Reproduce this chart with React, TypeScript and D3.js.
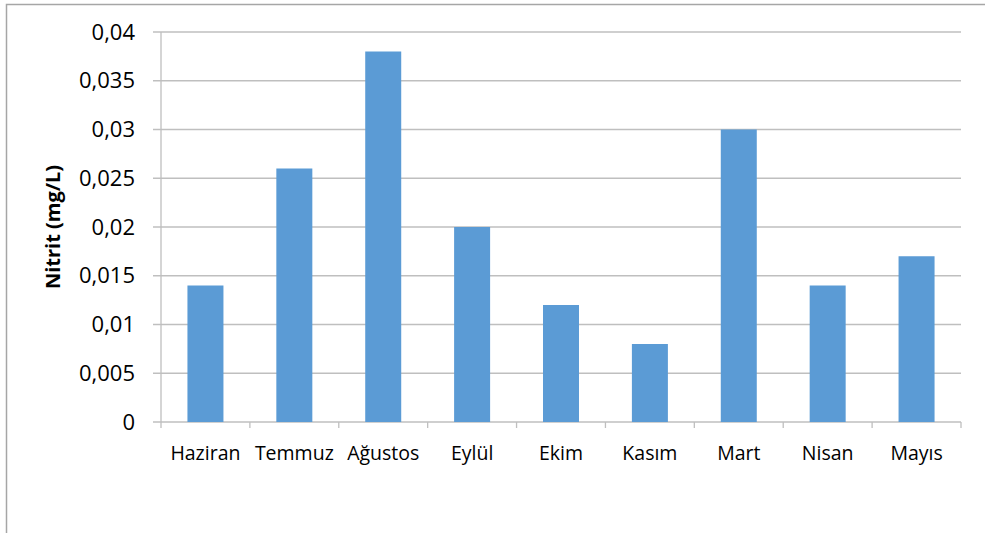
import React from "react";
import * as d3 from "d3";

const categories = ["Haziran", "Temmuz", "Ağustos", "Eylül", "Ekim", "Kasım", "Mart", "Nisan", "Mayıs"];
const values = [0.014, 0.026, 0.038, 0.02, 0.012, 0.008, 0.03, 0.014, 0.017];
const yTicks = [0, 0.005, 0.01, 0.015, 0.02, 0.025, 0.03, 0.035, 0.04];
const yTitle = "Nitrit (mg/L)";

const W = 985, H = 533;
const L = 161, R = 961, T = 32, B = 422;

export default function App() {
  const x = d3.scaleBand<string>().domain(categories).range([L, R]).paddingInner(0.595).paddingOuter(0.2975);
  const y = d3.scaleLinear().domain([0, 0.04]).range([B, T]);
  const fmt = (v: number) => (v === 0 ? "0" : String(+v.toFixed(3)).replace(".", ","));
  const step = (R - L) / categories.length;
  const font = "'Open Sans', 'Liberation Sans', sans-serif";
  return (
    <svg width={W} height={H} style={{ position: "absolute", left: 0, top: 0 }} fontFamily={font}>
      <rect x={0} y={0} width={W} height={H} fill="#fff" />
      <path d={`M6.5,${H}V4.5H${W}`} fill="none" stroke="#a6a6a6" strokeWidth={1.5} />
      {yTicks.map((t) => (
        <g key={t}>
          <line x1={L - 8} x2={R} y1={y(t)} y2={y(t)} stroke="#bfbfbf" strokeWidth={1.3} />
          <text x={135} y={y(t)} dy="0.35em" textAnchor="end" fontSize={22} fill="#000">
            {fmt(t)}
          </text>
        </g>
      ))}
      <line x1={L} x2={L} y1={T} y2={B} stroke="#bfbfbf" strokeWidth={1.3} />
      {d3.range(categories.length + 1).map((i) => (
        <line key={i} x1={L + i * step} x2={L + i * step} y1={B} y2={B + 6} stroke="#bfbfbf" strokeWidth={1.3} />
      ))}
      {categories.map((c, i) => (
        <g key={c}>
          <rect x={x(c)} y={y(values[i])} width={x.bandwidth()} height={B - y(values[i])} fill="#5b9bd5" />
          <text x={(x(c) as number) + x.bandwidth() / 2} y={453} dy="0.35em" textAnchor="middle" fontSize={19.5} fill="#000">
            {c}
          </text>
        </g>
      ))}
      <text transform={`translate(53,${(T + B) / 2}) rotate(-90)`} textAnchor="middle" dy="0.35em" fontSize={20} fontWeight="bold" fill="#000">
        {yTitle}
      </text>
    </svg>
  );
}
